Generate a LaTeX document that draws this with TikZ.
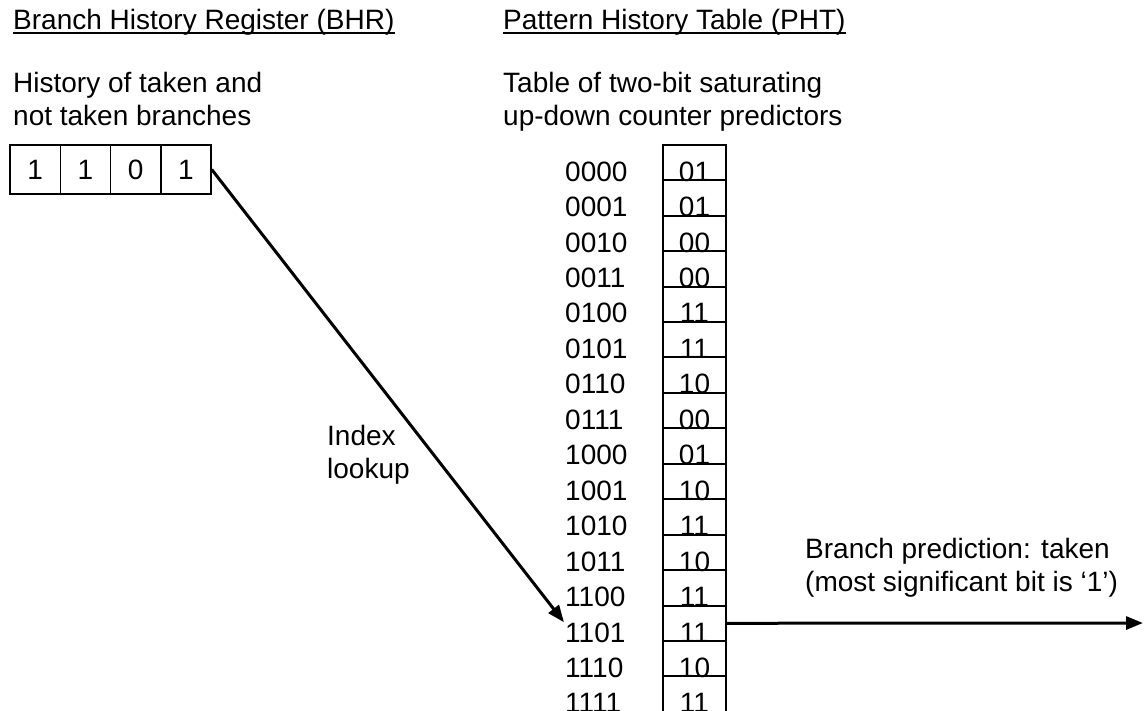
\documentclass[tikz,border=0pt]{standalone}
\usepackage{fontspec}
\setmainfont{Liberation Sans}
\usetikzlibrary{arrows.meta}
\begin{document}
\begin{tikzpicture}[x=1pt,y=-1pt,
  txt/.style={inner sep=0pt, font=\fontsize{28}{33}\selectfont, align=left},
  cell/.style={draw, line width=2pt, minimum width=63pt, minimum height=35.45pt, inner sep=0pt},
  bcell/.style={draw, line width=1.5pt, minimum width=50.25pt, minimum height=49pt, inner sep=0pt, font=\fontsize{28}{33}\selectfont},
  arr/.style={line width=3pt, -{Triangle[length=17pt,width=13pt]}},
  uline/.style={line width=1.5pt}]
\useasboundingbox (0,0) rectangle (1144,710);
% headers
\node[txt, anchor=base west] (h1) at (13,29.5) {Branch History Register (BHR)};
\node[txt, anchor=base west] (h2) at (503,29.5) {Pattern History Table (PHT)};
\draw[uline] ([yshift=-3.5pt]h1.base west) -- ([yshift=-3.5pt]h1.base east);
\draw[uline] ([yshift=-3.5pt]h2.base west) -- ([yshift=-3.5pt]h2.base east);
\node[txt, anchor=base west] (d1a) at (13,92.5) {History of taken and};
\node[txt, anchor=base west] (d1b) at (13,125.5) {not taken branches};
\node[txt, anchor=base west] (d2a) at (503,92.5) {Table of two-bit saturating};
\node[txt, anchor=base west] (d2b) at (503,125.5) {up-down counter predictors};
% BHR
\foreach \v [count=\i from 0] in {1,1,0,1} {
  \node[bcell] (b\i) at ({10+50.25*(\i+0.5)},169.5) {\v};
}
% PHT
\foreach \lab/\v [count=\i from 0] in {0000/01,0001/01,0010/00,0011/00,0100/11,0101/11,0110/10,0111/00,1000/01,1001/10,1010/11,1011/10,1100/11,1101/11,1110/10,1111/11} {
  \node[cell] (c\i) at (694.5,{144.7+35.45*(\i+0.5)}) {};
  \node[txt, anchor=base] (v\i) at (694.5,{144.7+35.45*(\i+1)+1}) {\v};
  \node[txt, anchor=base west] (l\i) at (565,{144.7+35.45*(\i+1)+1}) {\lab};
}
% index lookup arrow
\draw[arr] (b3.east) -- ([xshift=-1pt]l13.north west);
\node[txt, anchor=base west] (idx) at (327,478) {Index\\lookup};
% output arrow
\coordinate (out) at (1143,623);
\draw[arr] (c13.east) -- (out);
\node[txt, anchor=base west] (pred) at (805,591.5) {Branch prediction: taken\\(most significant bit is `1')};
\end{tikzpicture}
\end{document}
